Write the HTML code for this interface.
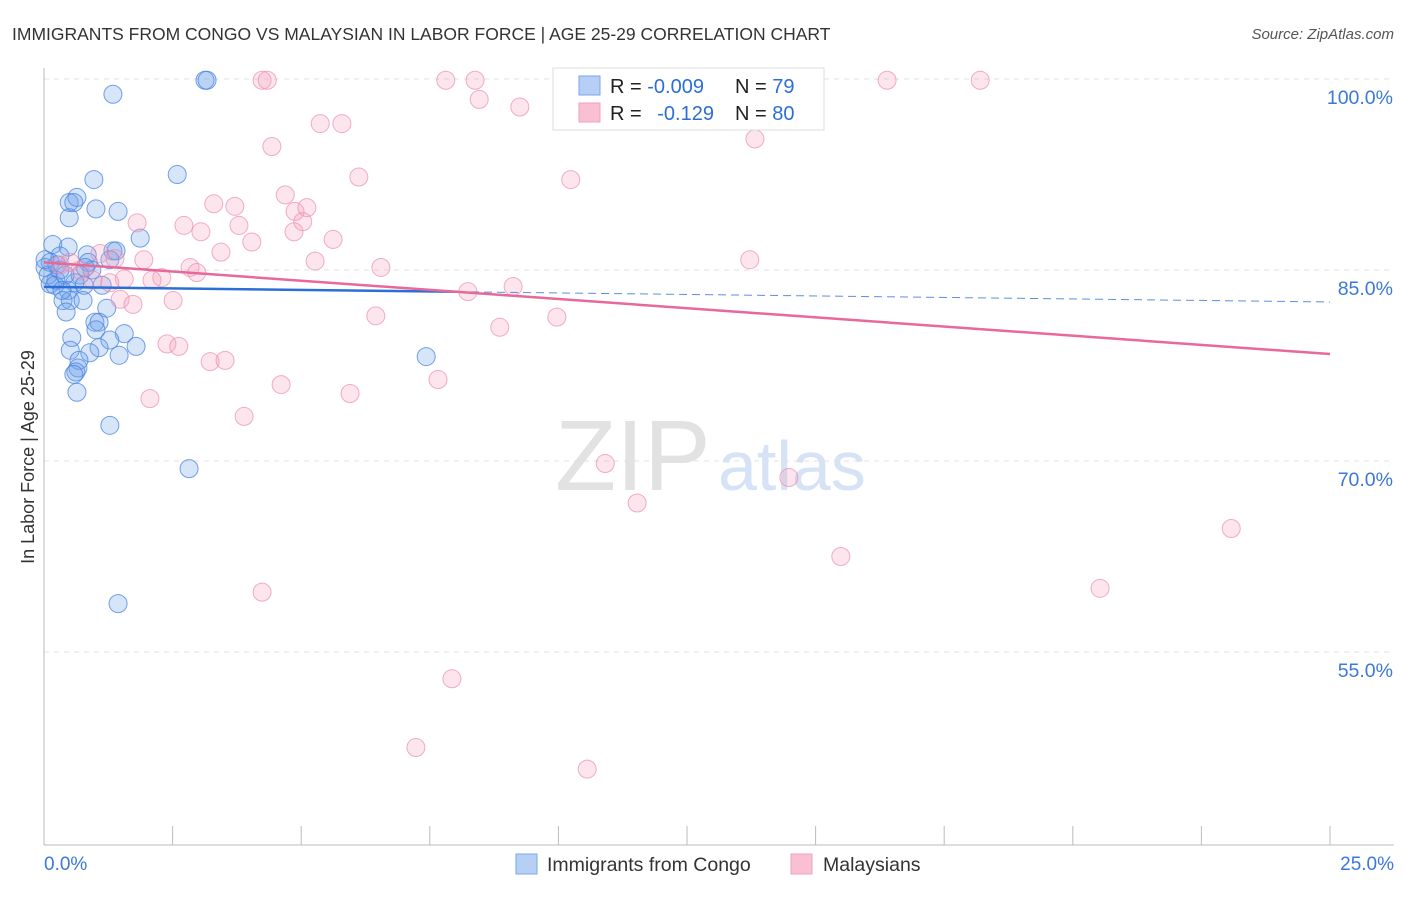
<!DOCTYPE html>
<html><head><meta charset="utf-8"><style>
body{margin:0;background:#fff;font-family:"Liberation Sans",sans-serif}
svg text{font-family:"Liberation Sans",sans-serif}
</style></head><body>
<svg id="c" width="1406" height="892">
<text x="12" y="40" font-size="17.5" fill="#333">IMMIGRANTS FROM CONGO VS MALAYSIAN IN LABOR FORCE | AGE 25-29 CORRELATION CHART</text>
<text x="1394" y="39" font-size="15" fill="#555" font-style="italic" text-anchor="end">Source: ZipAtlas.com</text>
<text x="555" y="490" font-size="100" font-family="Liberation Serif" fill="#e2e2e2">ZIP</text>
<text x="718" y="490" font-size="70" fill="#d6e3f6">atlas</text>
<text transform="translate(34,457) rotate(-90)" font-size="18" fill="#333" text-anchor="middle">In Labor Force | Age 25-29</text>
<g id="grid"></g><g id="pts"></g><g id="lines"></g>
<g>
<rect x="553" y="68" width="271" height="62" fill="#fff" stroke="#ddd"/>
<rect x="579" y="76" width="21" height="19" fill="#b5cff5" stroke="#7aa6e8"/>
<rect x="579" y="103" width="21" height="19" fill="#f8c0d2" stroke="#f0a0bc"/>
<text x="610" y="93" font-size="20" fill="#222">R = <tspan fill="#2b6fd6">-0.009</tspan></text>
<text x="735" y="93" font-size="20" fill="#222">N = <tspan fill="#2b6fd6">79</tspan></text>
<text x="610" y="120" font-size="20" fill="#222">R = <tspan fill="#2b6fd6" dx="10">-0.129</tspan></text>
<text x="735" y="120" font-size="20" fill="#222">N = <tspan fill="#2b6fd6">80</tspan></text>
</g>
<g>
<rect x="516" y="854" width="21" height="20" fill="#b5cff5" stroke="#7aa6e8"/>
<text x="547" y="871" font-size="19.5" fill="#333">Immigrants from Congo</text>
<rect x="791" y="854" width="21" height="20" fill="#f8c0d2" stroke="#f0a0bc"/>
<text x="823" y="871" font-size="19.5" fill="#333">Malaysians</text>
</g>
</svg>
<script>
const yTicks=[100,85,70,55];
const yTickLabels=["100.0%","85.0%","70.0%","55.0%"];
const blueX=[1.34,3.13,3.17,2.59,0.97,0.49,0.64,1.01,1.44,0.49,0.58,1.87,0.17,0.47,1.34,1.40,0.84,0.31,0.12,0.25,0.86,0.93,0.70,0.23,0.12,0.60,0.78,0.47,0.37,0.51,0.76,1.22,0.43,0.99,1.07,1.01,1.56,0.54,1.28,1.79,0.51,1.07,0.89,1.46,0.68,0.66,0.62,0.58,0.64,1.28,2.82,1.44,7.43,0.02,0.08,0.31,0.21,0.41,0.80,1.13,1.28,0.35,0.02];
const blueY=[98.8,99.9,99.9,92.5,92.1,90.3,90.7,89.8,89.6,89.1,90.3,87.5,87.0,86.8,86.5,86.5,86.2,86.1,85.6,85.4,85.6,85.0,84.6,84.2,83.9,84.0,83.8,83.4,82.6,82.6,82.6,82.0,81.7,80.9,80.9,80.3,80.0,79.7,79.5,79.0,78.7,78.9,78.5,78.3,77.9,77.3,77.0,76.8,75.4,72.8,69.4,58.8,78.2,85.2,84.6,85.0,83.8,84.6,85.2,83.8,85.8,83.4,85.8];
const pinkX=[4.24,4.34,7.81,8.38,10.34,14.07,16.39,18.20,8.46,9.25,5.37,5.79,4.43,13.82,6.12,10.24,4.69,3.30,3.71,4.88,5.11,1.81,2.72,3.05,3.79,5.03,4.86,4.04,5.62,3.44,1.09,1.94,5.27,6.55,13.72,2.84,2.97,2.29,2.10,1.56,1.28,0.95,9.12,8.24,1.48,1.73,2.51,6.45,9.97,8.86,2.39,2.62,3.23,3.52,4.61,7.66,2.06,5.95,3.89,10.91,14.48,11.53,23.08,15.49,20.53,4.24,7.93,7.23,10.56,0.31,0.51,0.70,1.38];
const pinkY=[99.9,99.9,99.9,99.9,99.9,99.9,99.9,99.9,98.4,97.8,96.5,96.5,94.7,95.3,92.3,92.1,90.9,90.2,90.0,89.6,89.9,88.7,88.5,88.0,88.5,88.8,88.0,87.2,87.4,86.4,86.3,85.8,85.7,85.2,85.8,85.2,84.8,84.4,84.2,84.3,84.0,84.2,83.7,83.3,82.7,82.3,82.6,81.4,81.3,80.5,79.2,79.0,77.8,77.9,76.0,76.4,74.9,75.3,73.5,69.8,68.7,66.7,64.7,62.5,60.0,59.7,52.9,47.5,45.8,85.4,85.6,85.0,85.9];
const blueTrend=[83.67,82.49], blueSolidEnd=8.05;
const pinkTrend=[85.6,78.4];
const NS="http://www.w3.org/2000/svg";
const sx=v=>44+v*51.44, sy=v=>79+(100-v)*12.733;
function mk(t,a,p){const e=document.createElementNS(NS,t);for(const k in a)e.setAttribute(k,a[k]);p.appendChild(e);return e;}
const grid=document.getElementById('grid');
yTicks.forEach((t,i)=>{
 const l=mk('line',{x1:44,x2:1394,y1:sy(t),y2:sy(t),stroke:'#e0e0e0','stroke-dasharray':'5,5'},grid);
 
 
 const tx=mk('text',{x:1393,y:sy(t)+25,'font-size':19.5,fill:'#3b78d8','text-anchor':'end'},grid);
 tx.textContent=yTickLabels[i];
 
 
});
const ax=mk('line',{x1:44,x2:44,y1:68,y2:845,stroke:'#bbb'},grid);


const bx=mk('line',{x1:44,x2:1394,y1:845,y2:845,stroke:'#bbb'},grid);


for(let k=1;k<=10;k++){const tk=mk('line',{x1:sx(k*2.5),x2:sx(k*2.5),y1:826,y2:845,stroke:'#bbb'},grid);
 
 }
[["0.0%",44,"start"],["25.0%",1394,"end"]].forEach(d=>{const t=mk('text',{x:d[1],y:870,'font-size':19,fill:'#3b78d8','text-anchor':d[2]},grid);t.textContent=d[0];
 
 });
const pts=document.getElementById('pts');
blueX.forEach((x,i)=>{const c=mk('circle',{cx:sx(x),cy:sy(blueY[i]),r:9,fill:'rgba(110,160,235,0.28)',stroke:'rgba(70,130,225,0.75)','stroke-width':1},pts);
 
 });
pinkX.forEach((x,i)=>{const c=mk('circle',{cx:sx(x),cy:sy(pinkY[i]),r:9,fill:'rgba(245,160,190,0.28)',stroke:'rgba(235,140,175,0.7)','stroke-width':1},pts);
 
 });
const ln=document.getElementById('lines');
const by=x=>blueTrend[0]+(blueTrend[1]-blueTrend[0])*x/25;
let l1=mk('line',{x1:sx(0),y1:sy(by(0)),x2:sx(blueSolidEnd),y2:sy(by(blueSolidEnd)),stroke:'#2b6fd6','stroke-width':2.5},ln);


let l2=mk('line',{x1:sx(blueSolidEnd),y1:sy(by(blueSolidEnd)),x2:sx(25),y2:sy(by(25)),stroke:'#5a8fe0','stroke-width':1,'stroke-dasharray':'8,5'},ln);


let l3=mk('line',{x1:sx(0),y1:sy(pinkTrend[0]),x2:sx(25),y2:sy(pinkTrend[1]),stroke:'#e8689a','stroke-width':2.5},ln);


</script>
</body></html>
